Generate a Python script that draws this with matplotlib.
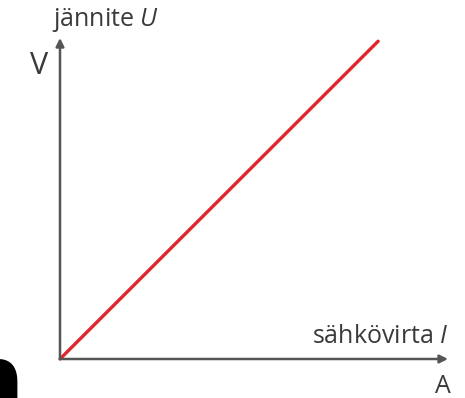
import matplotlib.pyplot as plt

# current I and voltage U (relative units), straight line through origin
current = [0.0, 0.82]
voltage = [0.0, 0.99]

x_label = "sähkövirta $\\mathit{I}$"
y_label = "jännite $\\mathit{U}$"
x_unit = "A"
y_unit = "V"

plt.rcParams['font.family'] = ['Open Sans', 'DejaVu Sans']
plt.rcParams['mathtext.fontset'] = 'custom'
plt.rcParams['mathtext.it'] = 'Open Sans:italic'

fig = plt.figure(figsize=(4.65, 3.98), dpi=100)
W, H = 465, 398
ox, oy = 60, 359
ax = fig.add_axes([ox / W, (H - oy) / H, (448 - ox) / W, (oy - 38) / H])
ax.set_xlim(0, 1)
ax.set_ylim(0, 1)
for s in ax.spines.values():
    s.set_visible(False)
ax.set_xticks([])
ax.set_yticks([])
ax.patch.set_alpha(0)

axis_col = '#555555'
arrow = dict(arrowstyle='-|>', color=axis_col, lw=1.8, mutation_scale=12, shrinkA=0, shrinkB=0)
ax.annotate('', xy=(1, 0), xytext=(0, 0), xycoords='axes fraction', arrowprops=arrow)
ax.annotate('', xy=(0, 1), xytext=(0, 0), xycoords='axes fraction', arrowprops=arrow)

ax.plot(current, voltage, color='#e0262d', lw=2.4, solid_capstyle='round', clip_on=False)

txt_col = '#3a3a3a'
ax.text(1.0, 0.05, x_label, transform=ax.transAxes, ha='right', va='baseline', fontsize=18, color=txt_col)
ax.text(1.008, -0.106, x_unit, transform=ax.transAxes, ha='right', va='baseline', fontsize=18, color=txt_col)
ax.text(-0.021, 1.037, y_label, transform=ax.transAxes, ha='left', va='baseline', fontsize=18, color=txt_col)
ax.text(-0.031, 0.913, y_unit, transform=ax.transAxes, ha='right', va='center', fontsize=22, color=txt_col)

# cropped big letter at bottom-left corner
fig.text(25 / W, (H - 339) / H, "n", ha='right', va='top', fontsize=72, fontweight='bold', color='black',
         family='DejaVu Sans')

fig.savefig('out.png', dpi=100)
